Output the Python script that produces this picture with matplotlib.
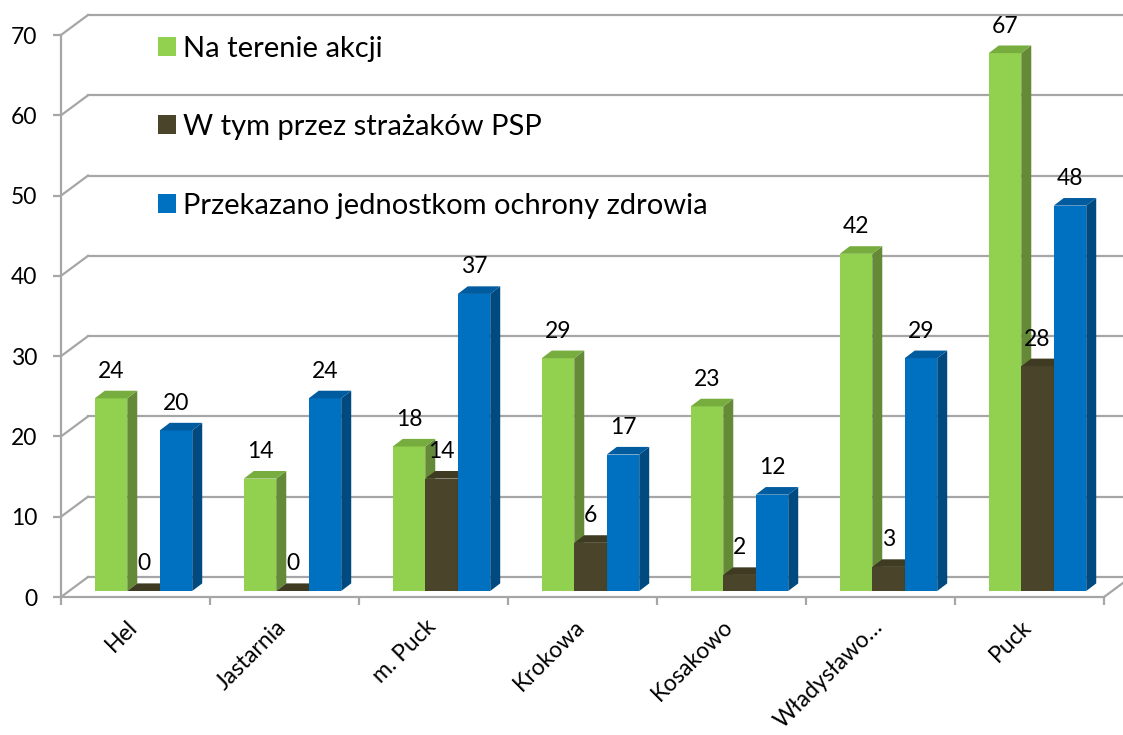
import matplotlib
matplotlib.use("Agg")
import matplotlib.pyplot as plt
from matplotlib.patches import Patch

plt.rcParams['font.family'] = ['Lato', 'DejaVu Sans']

# dane
categories = ['Hel', 'Jastarnia', 'm. Puck', 'Krokowa', 'Kosakowo', 'Władysławo…', 'Puck']
series_names = ['Na terenie akcji', 'W tym przez strażaków PSP', 'Przekazano jednostkom ochrony zdrowia']
na_terenie = [24, 14, 18, 29, 23, 42, 67]
w_tym_psp = [0, 0, 14, 6, 2, 3, 28]
przekazano = [20, 24, 37, 17, 12, 29, 48]
y_ticks = [0, 10, 20, 30, 40, 50, 60, 70]

# kolory: przód, bok, góra
face_cols = ['#92d050', '#4a452a', '#0070c0']
side_cols = ['#648a37', '#38341f', '#004a80']
top_cols = ['#77ac3e', '#3f3b23', '#005b9f']
grid_col = '#a6a6a6'

W, H = 1123, 735
fig = plt.figure(figsize=(W / 100, H / 100), dpi=100)
# płaszczyzna przednia osi
left_px, right_px, bottom_px, top_px = 61, 1104, 597, 35
ax = fig.add_axes([left_px / W, 1 - bottom_px / H,
                   (right_px - left_px) / W, (bottom_px - top_px) / H])
n = len(categories)
ax.set_xlim(0, n)
ax.set_ylim(0, 70)

sx = (right_px - left_px) / n          # px na kategorię
sy = (bottom_px - top_px) / 70.0       # px na jednostkę
# przesunięcia perspektywy (w jednostkach danych)
DX, DY = 27 / sx, 20 / sy
BX, BY = 8 / sx, 6 / sy
SDX, SDY = 10 / sx, 7.6 / sy

# tylna ściana i linie skośne
for v in y_ticks:
    ax.plot([0, DX], [v, v + DY], color=grid_col, lw=1.6, clip_on=False, zorder=1)
    ax.plot([DX, n + DX + 1], [v + DY, v + DY], color=grid_col, lw=1.6,
            clip_on=False, zorder=1)
ax.plot([n, n + DX], [0, DY], color=grid_col, lw=1.6, clip_on=False, zorder=1)

# słupki
w = 0.218
data = [na_terenie, w_tym_psp, przekazano]
z = 3
for i in range(n):
    for k, vals in enumerate(data):
        v = vals[i]
        x0 = i + 0.5 - 1.5 * w + k * w + BX
        ax.bar(x0, v, width=w, bottom=BY, align='edge', color=face_cols[k],
               linewidth=0, zorder=z, clip_on=False)
        ax.fill([x0 + w, x0 + w + SDX, x0 + w + SDX, x0 + w],
                [BY, BY + SDY, BY + v + SDY, BY + v],
                color=side_cols[k], lw=0, zorder=z, clip_on=False)
        ax.fill([x0, x0 + w, x0 + w + SDX, x0 + SDX],
                [BY + v, BY + v, BY + v + SDY, BY + v + SDY],
                color=top_cols[k], lw=0, zorder=z, clip_on=False)
        ax.text(x0 + w / 2, BY + v + 27 / sy, str(v), ha='center', va='center',
                fontsize=16.5, color='black', zorder=50, clip_on=False)
        z += 1

# osie
for s in ['top', 'right']:
    ax.spines[s].set_visible(False)
for s in ['left', 'bottom']:
    ax.spines[s].set_color(grid_col)
    ax.spines[s].set_linewidth(1.6)
ax.set_yticks(y_ticks)
ax.set_yticklabels([str(t) for t in y_ticks], fontsize=16.5)
ax.set_xticks(range(n + 1))
ax.set_xticklabels([])
ax.tick_params(axis='y', length=6, width=1.6, color=grid_col, pad=11)
ax.tick_params(axis='x', length=6, width=1.6, color=grid_col)
ax.set_facecolor('none')

for i, c in enumerate(categories):
    ax.text(i + 0.5 + 6 / sx, -19 / sy, c, ha='right', va='top', rotation=45,
            fontsize=16.5, clip_on=False)

handles = [Patch(facecolor=face_cols[k], edgecolor='none') for k in range(3)]
fig.legend(handles, series_names, loc='upper left', bbox_to_anchor=(146 / W, 1 - 24 / H),
           frameon=False, fontsize=21, handlelength=0.62, handleheight=0.62,
           handletextpad=0.25, labelspacing=1.8, borderaxespad=0)

fig.savefig('out.png', dpi=100)
